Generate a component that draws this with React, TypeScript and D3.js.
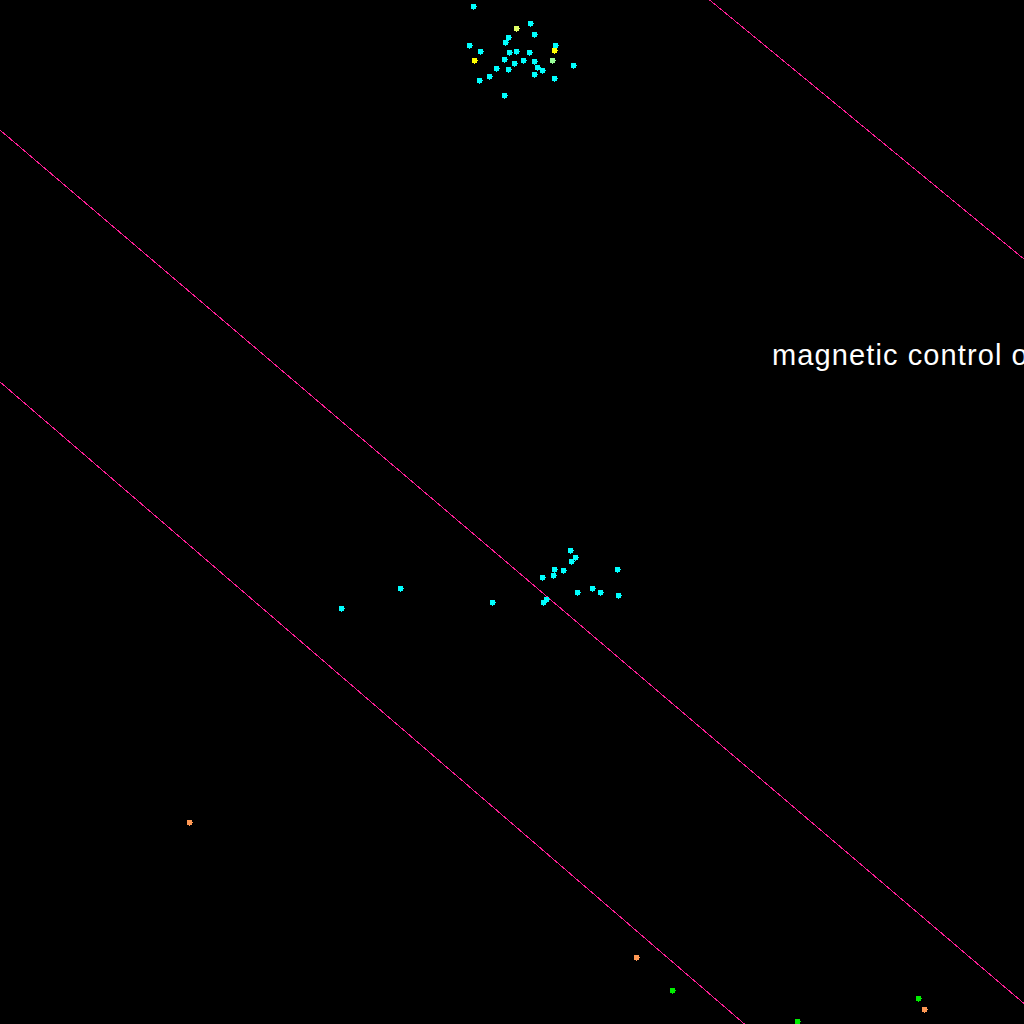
import React from "react";
import * as d3 from "d3";

const W = 1024;
const H = 1024;

// data space: x in [0,100], y in [0,100]
const cyanTop: [number, number][] = [
  [46.2, 99.4], [51.8, 97.8], [52.1, 96.7], [49.6, 96.4], [49.3, 95.9],
  [45.8, 95.6], [46.9, 95.0], [49.7, 94.9], [50.4, 95.0], [51.7, 94.9],
  [54.2, 95.6], [49.2, 94.2], [50.2, 93.8], [51.1, 94.1], [52.1, 94.0],
  [52.4, 93.5], [52.9, 93.2], [56.0, 93.7], [48.4, 93.4], [49.6, 93.3],
  [52.1, 92.8], [47.8, 92.6], [46.8, 92.2], [54.1, 92.4], [49.2, 90.7],
];
const cyanMid: [number, number][] = [
  [33.3, 40.6], [39.1, 42.6], [48.0, 41.2], [53.0, 41.2], [53.3, 41.5],
  [52.9, 43.7], [54.0, 43.8], [54.1, 44.4], [55.0, 44.3], [55.7, 46.3],
  [56.2, 45.6], [55.8, 45.2], [56.3, 42.2], [57.8, 42.6], [58.6, 42.2],
  [60.3, 44.4], [60.4, 41.9],
];
const yellowPts: [number, number][] = [[54.1, 95.1], [46.3, 94.1]];
const paleYellowPts: [number, number][] = [[50.4, 97.3]];
const lightGreenPts: [number, number][] = [[53.9, 94.1]];
const orangePts: [number, number][] = [[18.5, 19.7], [62.1, 6.5], [90.2, 1.5]];
const greenPts: [number, number][] = [[65.6, 3.3], [89.6, 2.5], [77.8, 0.3]];

const groups = [
  { name: "cyanTop", color: "#00ffff", pts: cyanTop },
  { name: "cyanMid", color: "#00ffff", pts: cyanMid },
  { name: "yellow", color: "#ffff00", pts: yellowPts },
  { name: "paleYellow", color: "#e0ff66", pts: paleYellowPts },
  { name: "lightGreen", color: "#99ff99", pts: lightGreenPts },
  { name: "orange", color: "#ff9955", pts: orangePts },
  { name: "green", color: "#00ee00", pts: greenPts },
];

const lines: [number, number][][] = [
  [[69.3, 100], [100, 74.7]],
  [[0, 87.3], [100, 2.0]],
  [[0, 62.7], [72.7, 0]],
];

const labelText = "magnetic control o";
const labelPos: [number, number] = [75.4, 64.4];

export default function App() {
  const x = d3.scaleLinear().domain([0, 100]).range([0, W]);
  const y = d3.scaleLinear().domain([0, 100]).range([H, 0]);
  const lineGen = d3
    .line<[number, number]>()
    .x((d) => x(d[0]))
    .y((d) => y(d[1]));

  const marker = (cx: number, cy: number) => {
    const px = Math.round(cx);
    const py = Math.round(cy);
    return `M${px - 2},${py - 2}h5v2h1v1h-1v2h-2v1h-1v-1h-2z`;
  };

  return (
    <svg
      width={W}
      height={H}
      style={{ position: "fixed", left: 0, top: 0, display: "block", background: "#000" }}
    >
      <rect x={0} y={0} width={W} height={H} fill="#000" />
      {lines.map((l, i) => (
        <path
          key={i}
          d={lineGen(l) || ""}
          stroke="#ff1e96"
          strokeWidth={1}
          fill="none"
          shapeRendering="crispEdges"
        />
      ))}
      {groups.map((g) =>
        g.pts.map((p, i) => (
          <path
            key={g.name + i}
            d={marker(x(p[0]), y(p[1]))}
            fill={g.color}
            shapeRendering="crispEdges"
          />
        ))
      )}
      <text
        x={x(labelPos[0])}
        y={y(labelPos[1])}
        fill="#ffffff"
        fontFamily="Liberation Sans, Arial, sans-serif"
        fontSize={29}
        letterSpacing={1.1}
      >
        {labelText}
      </text>
    </svg>
  );
}
